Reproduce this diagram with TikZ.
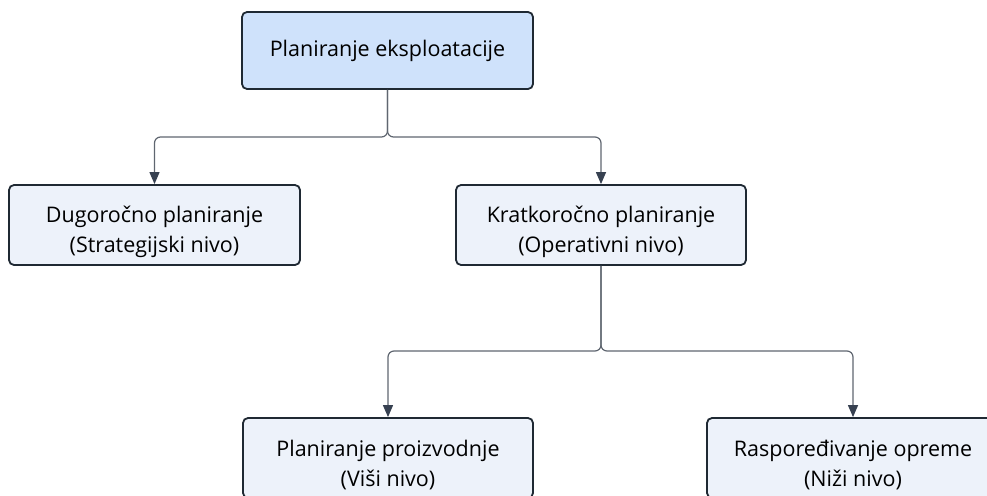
\documentclass[tikz,border=0pt]{standalone}
\usepackage{fontspec}
\setmainfont{Open Sans}
\usetikzlibrary{arrows.meta}
\definecolor{rootfill}{HTML}{CFE2FB}
\definecolor{leaffill}{HTML}{EDF2FA}
\definecolor{edgeline}{HTML}{1F2933}
\definecolor{linkline}{HTML}{5F6670}
\definecolor{tipfill}{HTML}{374151}
\newcommand{\lowerstrut}{\rule{0pt}{30pt}}
\tikzset{
  x=1pt, y=1pt,
  basebox/.style={draw=edgeline, line width=1.8pt, rounded corners=5pt,
    align=center, inner sep=0pt,
    font=\fontsize{21.5}{30.5}\selectfont, text=black},
  rootbox/.style={basebox, fill=rootfill},
  box/.style={basebox, fill=leaffill},
  link/.style={draw=linkline, line width=1.2pt, rounded corners=6pt,
    -{Triangle[length=12pt, width=10pt, fill=tipfill, color=tipfill]}},
}
\begin{document}
\begin{tikzpicture}
\useasboundingbox (0,0) rectangle (987,-495);
% hierarchy boxes (a tall strut on the first line lowers two-line text a little)
\node[rootbox, minimum width=291, minimum height=77] (root) at (387.5,-50.5) {Planiranje eksploatacije};
\node[box, minimum width=291, minimum height=80] (dugo) at (154.5,-225) {\lowerstrut Dugoročno planiranje\\(Strategijski nivo)};
\node[box, minimum width=290, minimum height=80] (kratko) at (601,-225) {\lowerstrut Kratkoročno planiranje\\(Operativni nivo)};
\node[box, minimum width=290, minimum height=80] (visi) at (388,-458) {\lowerstrut Planiranje proizvodnje\\(Viši nivo)};
\node[box, minimum width=292, minimum height=80] (nizi) at (853,-458) {\lowerstrut Raspoređivanje opreme\\(Niži nivo)};
% branch points
\coordinate (j1) at (387.5,-137);
\coordinate (j2) at (601,-351);
% connectors
\draw[link] (root.south) -- (j1) -| (dugo.north);
\draw[link] (root.south) -- (j1) -| (kratko.north);
\draw[link] (kratko.south) -- (j2) -| (visi.north);
\draw[link] (kratko.south) -- (j2) -| (nizi.north);
\end{tikzpicture}
\end{document}
